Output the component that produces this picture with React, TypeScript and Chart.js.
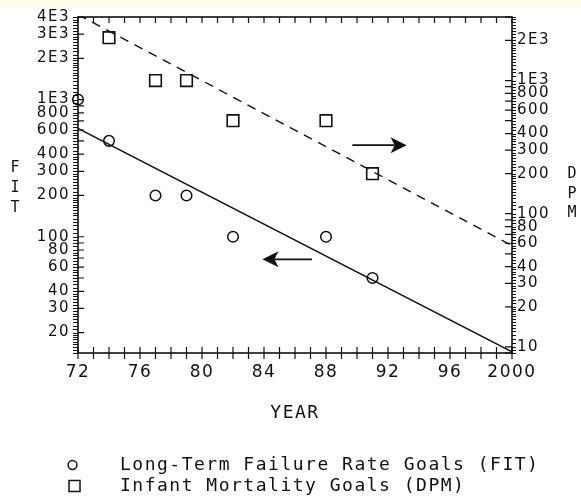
import React, { useEffect, useRef } from 'react';
import { Chart, registerables } from 'chart.js';

Chart.register(...registerables);

// ---- data ----
const fitYears = [72, 74, 77, 79, 82, 88, 91];
const fitGoals = [1000, 500, 200, 200, 100, 100, 50];
const dpmYears = [74, 77, 79, 82, 88, 91];
const dpmGoals = [2100, 1000, 1000, 500, 500, 200];
const fitTrendYears = [72, 100];
const fitTrendValues = [617, 14.5];
const dpmTrendYears = [72, 100];
const dpmTrendValues = [3130, 57.5];

const seriesLabels = ['Long-Term Failure Rate Goals (FIT)', 'Infant Mortality Goals (DPM)'];

const yearRange = [72, 100];
const fitRange = [14.2, 4000];
const dpmRange = [9, 3000];

const xLabelYears = [72, 76, 80, 84, 88, 92, 96, 100];
const xLabels = ['72', '76', '80', '84', '88', '92', '96', '2000'];
const fitTickValues = [20, 30, 40, 60, 80, 100, 200, 300, 400, 600, 800, 1000, 2000, 3000, 4000];
const fitTickLabels = ['20', '30', '40', '60', '80', '100', '200', '300', '400', '600', '800', '1E3', '2E3', '3E3', '4E3'];
const dpmTickValues = [10, 20, 30, 40, 60, 80, 100, 200, 300, 400, 600, 800, 1000, 2000];
const dpmTickLabels = ['10', '20', '30', '40', '60', '80', '100', '200', '300', '400', '600', '800', '1E3', '2E3'];

// direction arrows
const arrowFromYears = [89.7, 87.1];
const arrowToYears = [93.2, 83.9];
const arrowLevels = [327, 68.4];
const arrowAxes = ['y2', 'y'];

const leftTitle = ['F', 'I', 'T'];
const rightTitle = ['D', 'P', 'M'];

const INK = '#111111';
const MONO = "'DejaVu Sans Mono', monospace";
const SANS = "'DejaVu Sans', sans-serif";

function logMultiples(min: number, max: number) {
  const out: number[] = [];
  for (let k = Math.floor(Math.log10(min)); k <= Math.ceil(Math.log10(max)); k++) {
    for (let m = 1; m <= 9; m++) {
      const v = m * Math.pow(10, k);
      if (v >= min * 0.9999 && v <= max * 1.0001) out.push(v);
    }
  }
  return out;
}

// fine ruler: split every unit interval of the log axis into steps about 3px apart
function rulerPixels(scale: any) {
  const out: number[] = [];
  const min = scale.min;
  const max = scale.max;
  for (let k = Math.floor(Math.log10(min)) - 1; k <= Math.ceil(Math.log10(max)); k++) {
    const p = Math.pow(10, k);
    for (let m = 1; m <= 9; m++) {
      const lo = m * p;
      const hi = (m + 1) * p;
      const span = Math.abs(scale.getPixelForValue(lo) - scale.getPixelForValue(hi));
      const n = Math.max(2, Math.round(span / 3));
      for (let j = 0; j < n; j++) {
        const v = lo + ((hi - lo) * j) / n;
        if (v >= min && v <= max) out.push(scale.getPixelForValue(v));
      }
    }
  }
  return out;
}

function labelFor(values: number[], labels: string[], value: number) {
  const i = values.findIndex((v) => Math.abs(v - value) < v * 1e-6);
  return i >= 0 ? labels[i] : '';
}

function makeSymbol(kind: 'circle' | 'rect') {
  const c = document.createElement('canvas');
  c.width = 108;
  c.height = 16;
  const g = c.getContext('2d')!;
  g.strokeStyle = INK;
  g.lineWidth = 1.5;
  if (kind === 'circle') {
    g.beginPath();
    g.arc(69.5, 8, 4.4, 0, Math.PI * 2);
    g.stroke();
  } else {
    g.strokeRect(66, 2.5, 11, 11);
  }
  return c;
}

const decorPlugin = {
  id: 'decor',
  beforeDraw(chart: any) {
    chart.ctx.letterSpacing = '1.5px';
  },
  afterDraw(chart: any) {
    const { ctx, chartArea: a, scales } = chart;
    const x = scales.x;
    const y = scales.y;
    const y2 = scales.y2;
    ctx.save();
    ctx.letterSpacing = '0px';
    ctx.strokeStyle = INK;
    ctx.fillStyle = INK;

    // frame
    ctx.lineWidth = 1.6;
    ctx.strokeRect(a.left, a.top, a.right - a.left, a.bottom - a.top);

    // year ticks (bottom crossing, top inward)
    ctx.lineWidth = 1.2;
    ctx.beginPath();
    for (let yr = yearRange[0]; yr <= yearRange[1]; yr++) {
      const px = x.getPixelForValue(yr);
      ctx.moveTo(px, a.bottom - 6);
      ctx.lineTo(px, a.bottom + 6);
      ctx.moveTo(px, a.top);
      ctx.lineTo(px, a.top + 6);
    }
    // major log ticks, inward
    y.ticks.forEach((t: any) => {
      const py = y.getPixelForValue(t.value);
      ctx.moveTo(a.left, py);
      ctx.lineTo(a.left + 6, py);
    });
    y2.ticks.forEach((t: any) => {
      const py = y2.getPixelForValue(t.value);
      ctx.moveTo(a.right - 7, py);
      ctx.lineTo(a.right, py);
    });
    ctx.stroke();

    // fine rulers, outward
    ctx.lineWidth = 1;
    ctx.beginPath();
    rulerPixels(y).forEach((py) => {
      const s = Math.round(py) + 0.5;
      ctx.moveTo(a.left - 5, s);
      ctx.lineTo(a.left, s);
    });
    rulerPixels(y2).forEach((py) => {
      const s = Math.round(py) + 0.5;
      ctx.moveTo(a.right, s);
      ctx.lineTo(a.right + 4, s);
    });
    ctx.stroke();

    // arrows
    arrowFromYears.forEach((from, i) => {
      const sc = scales[arrowAxes[i]];
      const x1 = x.getPixelForValue(from);
      const x2 = x.getPixelForValue(arrowToYears[i]);
      const py = sc.getPixelForValue(arrowLevels[i]);
      const dir = Math.sign(x2 - x1);
      ctx.lineWidth = 1.8;
      ctx.beginPath();
      ctx.moveTo(x1, py);
      ctx.lineTo(x2 - dir * 12, py);
      ctx.stroke();
      ctx.beginPath();
      ctx.moveTo(x2, py);
      ctx.lineTo(x2 - dir * 16, py - 8);
      ctx.lineTo(x2 - dir * 12, py);
      ctx.lineTo(x2 - dir * 16, py + 8);
      ctx.closePath();
      ctx.fill();
    });

    // stacked axis titles
    ctx.font = `15px ${MONO}`;
    ctx.textAlign = 'center';
    ctx.textBaseline = 'middle';
    const mid = (a.top + a.bottom) / 2;
    leftTitle.forEach((ch, i) => ctx.fillText(ch, a.left - 63, mid + 3 + (i - 1) * 20.3));
    rightTitle.forEach((ch, i) => ctx.fillText(ch, a.right + 60, mid + 9 + (i - 1) * 19.5));
    ctx.restore();
  },
};

export default function App() {
  const ref = useRef<HTMLCanvasElement>(null);

  useEffect(() => {
    const circleSym = makeSymbol('circle');
    const rectSym = makeSymbol('rect');

    const chart = new Chart(ref.current!, {
      type: 'scatter',
      data: {
        datasets: [
          {
            label: seriesLabels[0],
            data: fitYears.map((yr, i) => ({ x: yr, y: fitGoals[i] })),
            yAxisID: 'y',
            pointStyle: 'circle',
            pointRadius: 5.3,
            borderColor: INK,
            backgroundColor: 'rgba(255,255,255,0)',
            borderWidth: 1.5,
            clip: false,
          },
          {
            label: seriesLabels[1],
            data: dpmYears.map((yr, i) => ({ x: yr, y: dpmGoals[i] })),
            yAxisID: 'y2',
            pointStyle: 'rect',
            pointRadius: 8.2,
            borderColor: INK,
            backgroundColor: 'rgba(255,255,255,0)',
            borderWidth: 1.6,
            clip: false,
          },
          {
            label: '',
            data: fitTrendYears.map((yr, i) => ({ x: yr, y: fitTrendValues[i] })),
            yAxisID: 'y',
            showLine: true,
            pointRadius: 0,
            borderColor: INK,
            borderWidth: 1.4,
          },
          {
            label: '',
            data: dpmTrendYears.map((yr, i) => ({ x: yr, y: dpmTrendValues[i] })),
            yAxisID: 'y2',
            showLine: true,
            pointRadius: 0,
            borderColor: INK,
            borderWidth: 1.4,
            borderDash: [9, 7],
          },
        ],
      },
      options: {
        responsive: false,
        animation: false,
        events: [],
        layout: { padding: { top: 15, left: 0, right: 0, bottom: -8 } },
        plugins: {
          tooltip: { enabled: false },
          title: { display: false },
          legend: {
            display: true,
            position: 'bottom',
            align: 'start',
            labels: {
              usePointStyle: true,
              pointStyleWidth: 108,
              boxHeight: 16,
              padding: 3,
              color: INK,
              font: { family: MONO, size: 18 },
              generateLabels: () => [
                {
                  text: seriesLabels[0],
                  pointStyle: circleSym,
                  datasetIndex: 0,
                  hidden: false,
                  lineWidth: 0,
                  strokeStyle: INK,
                  fillStyle: '#fff',
                  fontColor: INK,
                },
                {
                  text: seriesLabels[1],
                  pointStyle: rectSym,
                  datasetIndex: 1,
                  hidden: false,
                  lineWidth: 0,
                  strokeStyle: INK,
                  fillStyle: '#fff',
                  fontColor: INK,
                },
              ],
            },
          },
        },
        scales: {
          x: {
            type: 'linear',
            position: 'bottom',
            min: yearRange[0],
            max: yearRange[1],
            grid: { display: false, drawTicks: false },
            border: { display: false },
            afterBuildTicks: (scale: any) => {
              scale.ticks = xLabelYears.map((v) => ({ value: v }));
            },
            afterFit: (scale: any) => {
              scale.height = 100;
            },
            ticks: {
              autoSkip: false,
              maxRotation: 0,
              padding: 9,
              color: INK,
              font: { family: SANS, size: 17 },
              callback: (v: any) => labelFor(xLabelYears, xLabels, Number(v)),
            },
            title: {
              display: true,
              text: 'YEAR',
              color: INK,
              font: { family: MONO, size: 18 },
              padding: { top: 0, bottom: 28.5 },
            },
          },
          y: {
            type: 'logarithmic',
            position: 'left',
            min: fitRange[0],
            max: fitRange[1],
            grid: { display: false, drawTicks: false },
            border: { display: false },
            afterBuildTicks: (scale: any) => {
              scale.ticks = logMultiples(fitRange[0], fitRange[1]).map((v) => ({ value: v }));
            },
            afterFit: (scale: any) => {
              scale.width = 78;
            },
            ticks: {
              autoSkip: false,
              padding: 8,
              color: INK,
              font: { family: SANS, size: 15 },
              callback: (v: any) => labelFor(fitTickValues, fitTickLabels, Number(v)),
            },
          },
          y2: {
            type: 'logarithmic',
            position: 'right',
            min: dpmRange[0],
            max: dpmRange[1],
            grid: { display: false, drawTicks: false },
            border: { display: false },
            afterBuildTicks: (scale: any) => {
              scale.ticks = logMultiples(dpmRange[0], dpmRange[1]).map((v) => ({ value: v }));
            },
            afterFit: (scale: any) => {
              scale.width = 69;
            },
            ticks: {
              autoSkip: false,
              padding: 5,
              color: INK,
              font: { family: SANS, size: 15 },
              callback: (v: any) => labelFor(dpmTickValues, dpmTickLabels, Number(v)),
            },
          },
        },
      },
      plugins: [decorPlugin],
    } as any);

    return () => chart.destroy();
  }, []);

  return (
    <div
      style={{
        position: 'absolute',
        left: 0,
        top: 0,
        width: 581,
        height: 497,
        background: 'linear-gradient(#fffde8 0px, #fffde8 8px, #ffffff 8px, #ffffff 100%)',
      }}
    >
      <canvas ref={ref} width={581} height={497} style={{ display: 'block' }} />
    </div>
  );
}
